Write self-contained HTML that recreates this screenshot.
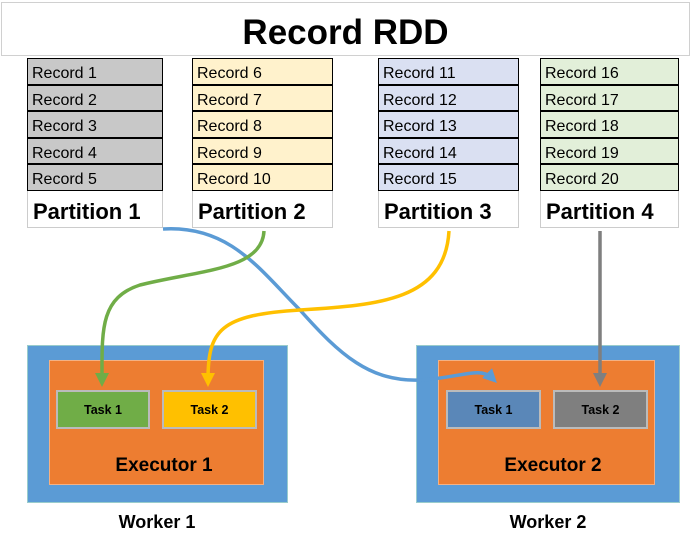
<!DOCTYPE html>
<html><head><style>
body{margin:0;width:694px;height:549px;background:#fff;font-family:"Liberation Sans",sans-serif;position:relative;overflow:hidden}
.a{position:absolute;box-sizing:border-box}
.title{left:1px;top:2px;width:689px;height:54px;border:1px solid #d0d0d0;text-align:center;font-weight:bold;font-size:35px;line-height:60px}
.rec{border:1.5px solid #000;height:26.6px;font-size:16px;line-height:30px;padding-left:4px}
.pl{border:1px solid #ccc;border-top:none;height:37px;font-weight:bold;font-size:22px;line-height:42px;padding-left:5px}
.task{border:2px solid #bbb;font-size:12.5px;font-weight:bold;text-align:center;line-height:36px}
.ex{font-weight:bold;font-size:19px;text-align:center}
</style></head><body>
<div class="a title">Record RDD</div>
<div class="a" style="left:27px;top:58px;width:136px">
<div class="a rec" style="position:relative;background:#c8c8c8">Record 1</div><div class="a rec" style="position:relative;background:#c8c8c8">Record 2</div><div class="a rec" style="position:relative;background:#c8c8c8">Record 3</div><div class="a rec" style="position:relative;background:#c8c8c8">Record 4</div><div class="a rec" style="position:relative;background:#c8c8c8">Record 5</div><div class="a pl" style="position:relative">Partition 1</div></div>
<div class="a" style="left:192px;top:58px;width:141px">
<div class="a rec" style="position:relative;background:#fff2cc">Record 6</div><div class="a rec" style="position:relative;background:#fff2cc">Record 7</div><div class="a rec" style="position:relative;background:#fff2cc">Record 8</div><div class="a rec" style="position:relative;background:#fff2cc">Record 9</div><div class="a rec" style="position:relative;background:#fff2cc">Record 10</div><div class="a pl" style="position:relative">Partition 2</div></div>
<div class="a" style="left:378px;top:58px;width:141px">
<div class="a rec" style="position:relative;background:#dae0f2">Record 11</div><div class="a rec" style="position:relative;background:#dae0f2">Record 12</div><div class="a rec" style="position:relative;background:#dae0f2">Record 13</div><div class="a rec" style="position:relative;background:#dae0f2">Record 14</div><div class="a rec" style="position:relative;background:#dae0f2">Record 15</div><div class="a pl" style="position:relative">Partition 3</div></div>
<div class="a" style="left:540px;top:58px;width:139px">
<div class="a rec" style="position:relative;background:#e2efd9">Record 16</div><div class="a rec" style="position:relative;background:#e2efd9">Record 17</div><div class="a rec" style="position:relative;background:#e2efd9">Record 18</div><div class="a rec" style="position:relative;background:#e2efd9">Record 19</div><div class="a rec" style="position:relative;background:#e2efd9">Record 20</div><div class="a pl" style="position:relative">Partition 4</div></div>

<div class="a" style="left:27px;top:345px;width:261px;height:158px;background:#5b9bd5;border:1px solid #9cc"></div>
<div class="a" style="left:49px;top:360px;width:215px;height:125px;background:#ed7d31;border:1px solid #f4b183"></div>
<div class="a task" style="left:56px;top:390px;width:94px;height:39px;background:#70ad47">Task 1</div>
<div class="a task" style="left:162px;top:390px;width:95px;height:39px;background:#ffc000">Task 2</div>
<div class="a ex" style="left:49px;top:455px;width:230px">Executor 1</div>
<div class="a ex" style="left:57px;top:512px;width:200px;font-size:18px">Worker 1</div>

<div class="a" style="left:416px;top:345px;width:264px;height:158px;background:#5b9bd5;border:1px solid #9cc"></div>
<div class="a" style="left:438px;top:360px;width:217px;height:125px;background:#ed7d31;border:1px solid #f4b183"></div>
<div class="a task" style="left:446px;top:390px;width:95px;height:39px;background:#5a87b8">Task 1</div>
<div class="a task" style="left:553px;top:390px;width:95px;height:39px;background:#7f7f7f">Task 2</div>
<div class="a ex" style="left:438px;top:455px;width:230px">Executor 2</div>
<div class="a ex" style="left:448px;top:512px;width:200px;font-size:18px">Worker 2</div>

<svg class="a" style="left:0;top:0" width="694" height="549">
<defs>
<marker id="g" markerWidth="4" markerHeight="4" refX="2" refY="2" orient="auto" markerUnits="strokeWidth"><path d="M0,0L4,2L0,4z" fill="#70ad47"/></marker>
<marker id="y" markerWidth="4" markerHeight="4" refX="2" refY="2" orient="auto" markerUnits="strokeWidth"><path d="M0,0L4,2L0,4z" fill="#ffc000"/></marker>
<marker id="b" markerWidth="4" markerHeight="4" refX="2" refY="2" orient="auto" markerUnits="strokeWidth"><path d="M0,0L4,2L0,4z" fill="#5b9bd5"/></marker>
<marker id="k" markerWidth="4" markerHeight="4" refX="2" refY="2" orient="auto" markerUnits="strokeWidth"><path d="M0,0L4,2L0,4z" fill="#7f7f7f"/></marker>
</defs>
<g fill="none" stroke-width="3.5">
<path d="M163,229 C230,225 260,270 300,310 C340,355 370,382 420,380 C460,378 480,366 492,378" stroke="#5b9bd5" marker-end="url(#b)"/>
<path d="M264,231 C262,270 200,270 140,285 C100,298 102,330 102,380" stroke="#70ad47" marker-end="url(#g)"/>
<path d="M449,231 C445,300 380,305 300,310 C220,315 208,330 208,380" stroke="#ffc000" marker-end="url(#y)"/>
<path d="M600,231 L600,380" stroke="#7f7f7f" marker-end="url(#k)"/>
</g>
</svg>
</body></html>
